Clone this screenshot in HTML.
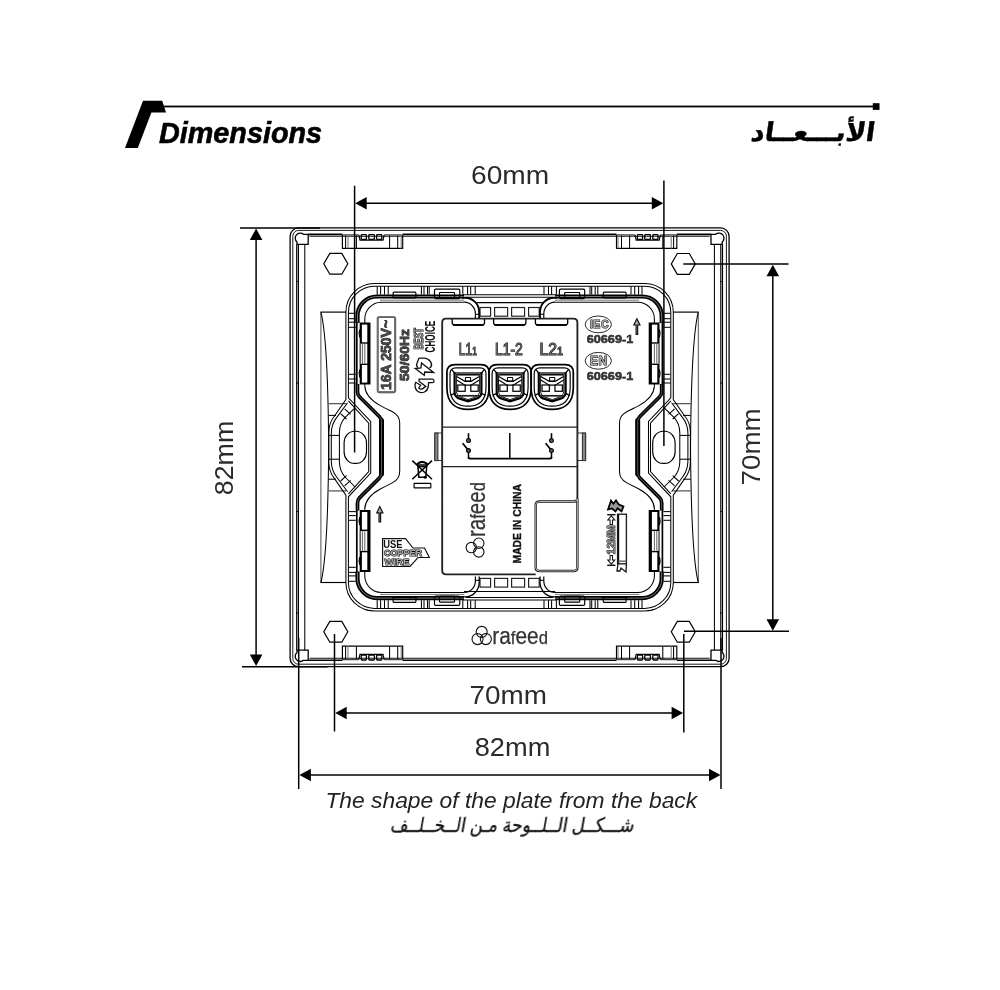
<!DOCTYPE html>
<html lang="en"><head><meta charset="utf-8"><title>Dimensions</title>
<style>
html,body{margin:0;padding:0;background:#fff}
body{width:1000px;height:990px;overflow:hidden}
svg{display:block}
text{font-family:"Liberation Sans",sans-serif}
text.ar{font-family:"Liberation Sans","DejaVu Sans",sans-serif}
</style></head><body>
<svg width="1000" height="990" viewBox="0 0 1000 990">
<defs><clipPath id="cTL"><rect x="0" y="0" width="510" height="447"/></clipPath><clipPath id="cTR"><rect x="510" y="0" width="490" height="447"/></clipPath><clipPath id="cBL"><rect x="0" y="447" width="510" height="543"/></clipPath><clipPath id="cBR"><rect x="510" y="447" width="490" height="543"/></clipPath><filter id="ga" filterUnits="userSpaceOnUse" x="0" y="0" width="1000" height="990"><feOffset dx="0" dy="0"/></filter></defs>
<rect width="1000" height="990" fill="#fff"/>
<g filter="url(#ga)">
<polygon points="143,100.8 162.2,100.8 166,112.6 151.4,112.6 137.8,148 125,148" fill="#000"/>
<rect x="162" y="105.6" width="712" height="1.8" fill="#000"/>
<rect x="872.8" y="103.2" width="6.7" height="6.7" fill="#000"/>
<path d="M354.6 185.7L354.6 452.5" stroke="#000" stroke-width="1.495" fill="none"/>
<path d="M663.9 180.6L663.9 446" stroke="#000" stroke-width="1.495" fill="none"/>
<path d="M365.7 203.2L652.8 203.2" stroke="#000" stroke-width="1.495" fill="none"/>
<polygon points="355.2,203.2 366.7,196.89999999999998 366.7,209.5" fill="#000"/>
<polygon points="663.3,203.2 651.8,196.89999999999998 651.8,209.5" fill="#000"/>
<path d="M240 228L320 228" stroke="#000" stroke-width="1.495" fill="none"/>
<path d="M242 666.7L327.5 666.7" stroke="#000" stroke-width="1.495" fill="none"/>
<path d="M256.1 239.1L256.1 655.6" stroke="#000" stroke-width="1.495" fill="none"/>
<polygon points="256.1,228.6 249.8,240.1 262.40000000000003,240.1" fill="#000"/>
<polygon points="256.1,666.1 249.8,654.6 262.40000000000003,654.6" fill="#000"/>
<path d="M683.3 264.1L788.5 264.1" stroke="#000" stroke-width="1.495" fill="none"/>
<path d="M684 631.3L789 631.3" stroke="#000" stroke-width="1.495" fill="none"/>
<path d="M772.8 275.2L772.8 620.2" stroke="#000" stroke-width="1.495" fill="none"/>
<polygon points="772.8,264.7 766.5,276.2 779.0999999999999,276.2" fill="#000"/>
<polygon points="772.8,630.7 766.5,619.2 779.0999999999999,619.2" fill="#000"/>
<path d="M334.5 634L334.5 731.5" stroke="#000" stroke-width="1.495" fill="none"/>
<path d="M683.8 634L683.8 732.5" stroke="#000" stroke-width="1.495" fill="none"/>
<path d="M345.7 713L672.6 713" stroke="#000" stroke-width="1.495" fill="none"/>
<polygon points="335.2,713 346.7,706.7 346.7,719.3" fill="#000"/>
<polygon points="683.1,713 671.6,706.7 671.6,719.3" fill="#000"/>
<path d="M298.7 638L298.7 789" stroke="#000" stroke-width="1.495" fill="none"/>
<path d="M721.0 638L721.0 789" stroke="#000" stroke-width="1.495" fill="none"/>
<path d="M309.9 775L710.0 775" stroke="#000" stroke-width="1.495" fill="none"/>
<polygon points="299.4,775 310.9,768.7 310.9,781.3" fill="#000"/>
<polygon points="720.5,775 709.0,768.7 709.0,781.3" fill="#000"/>
<rect x="290.1" y="227.9" width="439.00" height="438.80" rx="8.5" ry="8.5" fill="none" stroke="#000" stroke-width="1.3"/>
<rect x="292.8" y="230.4" width="433.60" height="433.80" rx="5.8" ry="5.8" fill="none" stroke="#000" stroke-width="0.9"/>
<g clip-path="url(#cTL)"><path d="M308.2 234.4L342.4 234.4" stroke="#000" stroke-width="1.61" fill="none"/><path d="M402.7 234.4L511.20000000000005 234.4" stroke="#000" stroke-width="1.61" fill="none"/><path d="M342.4 234.9L358.8 234.9" stroke="#000" stroke-width="0.91" fill="none"/><path d="M384.2 234.9L402.7 234.9" stroke="#000" stroke-width="0.91" fill="none"/><path d="M309.5 236.3L511.20000000000005 236.3" stroke="#111" stroke-width="1.04" fill="none"/><path d="M296.7 244.4L296.7 448.90000000000003" stroke="#000" stroke-width="1.17" fill="none"/><path d="M298.4 244.4L298.4 448.90000000000003" stroke="#000" stroke-width="1.17" fill="none"/><path d="M304.8 244.4L304.8 448.90000000000003" stroke="#000" stroke-width="1.04" fill="none"/><path d="M308.2 234.3 H303.5 A4.6 4.6 0 1 0 297 242 V244.4 H308.2 Z" stroke="#000" stroke-width="1.3" fill="none" /><path d="M296.2 281.5L298.9 281.5" stroke="#000" stroke-width="1.04" fill="none"/><path d="M296.2 383L298.9 383" stroke="#000" stroke-width="1.04" fill="none"/><path d="M342.4 235 V248.4 H402.7 V235" stroke="#000" stroke-width="1.17" fill="none" /><path d="M345.6 235.5L345.6 248.4" stroke="#000" stroke-width="1.04" fill="none"/><path d="M356.4 235.5L356.4 248.4" stroke="#000" stroke-width="1.04" fill="none"/><path d="M389.6 235.5L389.6 248.4" stroke="#000" stroke-width="1.04" fill="none"/><path d="M397.7 235.5L397.7 248.4" stroke="#000" stroke-width="1.04" fill="none"/><path d="M348 235.5L348 248.4" stroke="#777" stroke-width="1.04" fill="none"/><path d="M401.2 235.5L401.2 248.4" stroke="#777" stroke-width="1.04" fill="none"/><path d="M358.8 235 L360 240.2 H383 L384.2 235" stroke="#000" stroke-width="1.17" fill="none" /><rect x="361.20" y="234.60" width="5.20" height="4.80" rx="0.7" stroke="#000" stroke-width="1.3" fill="none"/><rect x="368.80" y="234.60" width="5.60" height="4.80" rx="0.7" stroke="#000" stroke-width="1.3" fill="none"/><rect x="376.60" y="234.60" width="5.20" height="4.80" rx="0.7" stroke="#000" stroke-width="1.3" fill="none"/><path d="M320.4 312.1L346.1 312.1" stroke="#000" stroke-width="1.17" fill="none"/><path d="M320.9 312.1L320.9 448.90000000000003" stroke="#555" stroke-width="1.04" fill="none"/><path d="M320.9 312.1 C325.5 330 328.2 375 328.7 448.90000000000003" stroke="#000" stroke-width="1.04" fill="none" /><path d="M348.6 313.3L355.8 313.3" stroke="#000" stroke-width="1.04" fill="none"/><path d="M348.6 318.7L355.8 318.7" stroke="#000" stroke-width="1.04" fill="none"/><path d="M348.6 322.2L355.8 322.2" stroke="#000" stroke-width="1.04" fill="none"/><path d="M348.6 327.3L355.8 327.3" stroke="#000" stroke-width="1.04" fill="none"/><path d="M348.6 374.3L355.8 374.3" stroke="#000" stroke-width="1.04" fill="none"/><path d="M348.6 379L355.8 379" stroke="#000" stroke-width="1.04" fill="none"/><path d="M348.6 383L355.8 383" stroke="#000" stroke-width="1.04" fill="none"/><path d="M328.6 403.7L346 403.7" stroke="#333" stroke-width="1.04" fill="none"/><path d="M328.6 415.4L336 415.4" stroke="#000" stroke-width="1.04" fill="none"/><path d="M329 435.4L339.4 435.4" stroke="#000" stroke-width="1.04" fill="none"/><path d="M511.20000000000005 283.6 H374.5 A28.6 28.6 0 0 0 345.9 312.2 V399.5 L334.5 416 Q329 422.5 328.8 432 V448.90000000000003" stroke="#000" stroke-width="1.04" fill="none" /><path d="M511.20000000000005 286.2 H374.5 A26.3 26.3 0 0 0 348.4 312.2 V397.8 L370.7 421.5 V448.90000000000003" stroke="#000" stroke-width="1.04" fill="none" /><path d="M347.6 402.8 L336.6 417.6 Q331.5 424 331.3 433 V448.90000000000003" stroke="#000" stroke-width="1.04" fill="none" /><path d="M348.4 400.8 L368.7 423.1 V448.90000000000003" stroke="#000" stroke-width="1.04" fill="none" /><path d="M355.2 407.6 L345 417.6 Q339.6 423.5 339.4 432.5 V448.90000000000003" stroke="#000" stroke-width="1.04" fill="none" /><path d="M340.6 413.6L346.5 419" stroke="#000" stroke-width="1.04" fill="none"/><path d="M344.6 408.8L350.6 414.3" stroke="#000" stroke-width="1.04" fill="none"/><path d="M464 296.5 H377 A19.5 19.5 0 0 0 357.5 316 V323" stroke="#000" stroke-width="4.2" fill="none" /><path d="M464 296.5 H377 A19.5 19.5 0 0 0 357.5 316 V323" stroke="#999" stroke-width="0.78" fill="none" /><path d="M357.5 384 V391.7 Q357.5 394.8 359.7 397 L379.3 416.5 Q381.5 418.7 381.5 421.8 V448.90000000000003" stroke="#000" stroke-width="3.7" fill="none" /><path d="M381.5 420.5 V448.90000000000003" stroke="#000" stroke-width="5.0" fill="none" stroke-linecap="round"/><path d="M357.5 384 V391.7 Q357.5 394.8 359.7 397 L379.3 416.5 Q381.5 418.7 381.5 421.8 V448.90000000000003" stroke="#888" stroke-width="0.65" fill="none" /><path d="M356.8 322L356.8 385" stroke="#000" stroke-width="1.7" fill="none"/><path d="M464.3 302.2 H381.5 A16.7 16.7 0 0 0 364.8 318.9 V386 C365.2 394 370 400 380.3 405.6 C386 408.7 389 410 392.4 411.7 C397 414 399.7 417.5 399.7 423 V448.90000000000003" stroke="#000" stroke-width="1.04" fill="none" /><path d="M464.3 300.2 H380" stroke="#666" stroke-width="0.91" fill="none" /><path d="M464.2 302.2 A11.2 11.4 0 0 1 475.4 313.6 V318" stroke="#000" stroke-width="1.17" fill="none" /><path d="M475.4 314.3L479.2 314.3" stroke="#000" stroke-width="1.04" fill="none"/><path d="M462.8 294.7L511.20000000000005 294.7" stroke="#000" stroke-width="1.04" fill="none"/><path d="M466 297.2L511.20000000000005 297.2" stroke="#000" stroke-width="1.04" fill="none"/><rect x="480.00" y="307.50" width="10.60" height="8.70" rx="0" stroke="#222" stroke-width="1.17" fill="none"/><rect x="494.60" y="307.50" width="13.00" height="8.70" rx="0" stroke="#222" stroke-width="1.17" fill="none"/><path d="M377.2 286.2L377.2 294.4" stroke="#000" stroke-width="1.04" fill="none"/><path d="M380.6 286.2L380.6 294.4" stroke="#000" stroke-width="1.04" fill="none"/><path d="M384.5 286.2L384.5 294.4" stroke="#000" stroke-width="1.04" fill="none"/><path d="M388.2 286.2L388.2 294.4" stroke="#000" stroke-width="1.04" fill="none"/><path d="M421.4 286.2L421.4 294.4" stroke="#000" stroke-width="1.04" fill="none"/><path d="M424 286.2L424 294.4" stroke="#000" stroke-width="1.04" fill="none"/><path d="M427.5 286.2L427.5 294.4" stroke="#000" stroke-width="1.04" fill="none"/><path d="M429.2 286.2L429.2 294.4" stroke="#000" stroke-width="1.04" fill="none"/><path d="M462.8 286.2L462.8 294.4" stroke="#000" stroke-width="1.04" fill="none"/><path d="M467.6 286.2L467.6 294.4" stroke="#000" stroke-width="1.04" fill="none"/><path d="M470.7 286.2L470.7 294.4" stroke="#000" stroke-width="1.04" fill="none"/><path d="M475.2 286.2L475.2 294.4" stroke="#000" stroke-width="1.04" fill="none"/><rect x="434.50" y="289.20" width="25.30" height="9.40" rx="1.2" stroke="#000" stroke-width="1.17" fill="none"/><rect x="439.50" y="292.50" width="15.00" height="5.70" rx="0.5" stroke="#000" stroke-width="1.17" fill="none"/><rect x="393.10" y="292.20" width="22.80" height="5.80" rx="1" stroke="#000" stroke-width="1.17" fill="none"/><path d="M391.5 297.2L417.5 297.2" stroke="#000" stroke-width="1.04" fill="none"/><rect x="359.70" y="322.50" width="10.80" height="62.10" rx="0.3" stroke="none" stroke-width="0" fill="#000"/><rect x="361.90" y="324.60" width="5.40" height="17.70" rx="0" stroke="none" stroke-width="0" fill="#fff"/><rect x="361.90" y="365.00" width="5.40" height="17.60" rx="0" stroke="none" stroke-width="0" fill="#fff"/><rect x="359.50" y="343.70" width="7.80" height="19.90" rx="0" stroke="none" stroke-width="0" fill="#fff"/><path d="M360.2 343.7L360.2 363.6" stroke="#222" stroke-width="1.04" fill="none"/><path d="M362.4 343.7L362.4 363.6" stroke="#555" stroke-width="0.91" fill="none"/><path d="M364.8 343.7L364.8 363.6" stroke="#555" stroke-width="0.91" fill="none"/><path d="M359.9 329.5 Q358.4 333.5 359.9 337.5" stroke="#000" stroke-width="1.38" fill="none" /><path d="M359.9 369.5 Q358.4 373.5 359.9 377.5" stroke="#000" stroke-width="1.38" fill="none" /></g>
<g clip-path="url(#cTR)"><g transform="translate(1019.2,0) scale(-1,1)"><path d="M308.2 234.4L342.4 234.4" stroke="#000" stroke-width="1.61" fill="none"/><path d="M402.7 234.4L511.20000000000005 234.4" stroke="#000" stroke-width="1.61" fill="none"/><path d="M342.4 234.9L358.8 234.9" stroke="#000" stroke-width="0.91" fill="none"/><path d="M384.2 234.9L402.7 234.9" stroke="#000" stroke-width="0.91" fill="none"/><path d="M309.5 236.3L511.20000000000005 236.3" stroke="#111" stroke-width="1.04" fill="none"/><path d="M296.7 244.4L296.7 448.90000000000003" stroke="#000" stroke-width="1.17" fill="none"/><path d="M298.4 244.4L298.4 448.90000000000003" stroke="#000" stroke-width="1.17" fill="none"/><path d="M304.8 244.4L304.8 448.90000000000003" stroke="#000" stroke-width="1.04" fill="none"/><path d="M308.2 234.3 H303.5 A4.6 4.6 0 1 0 297 242 V244.4 H308.2 Z" stroke="#000" stroke-width="1.3" fill="none" /><path d="M296.2 281.5L298.9 281.5" stroke="#000" stroke-width="1.04" fill="none"/><path d="M296.2 383L298.9 383" stroke="#000" stroke-width="1.04" fill="none"/><path d="M342.4 235 V248.4 H402.7 V235" stroke="#000" stroke-width="1.17" fill="none" /><path d="M345.6 235.5L345.6 248.4" stroke="#000" stroke-width="1.04" fill="none"/><path d="M356.4 235.5L356.4 248.4" stroke="#000" stroke-width="1.04" fill="none"/><path d="M389.6 235.5L389.6 248.4" stroke="#000" stroke-width="1.04" fill="none"/><path d="M397.7 235.5L397.7 248.4" stroke="#000" stroke-width="1.04" fill="none"/><path d="M348 235.5L348 248.4" stroke="#777" stroke-width="1.04" fill="none"/><path d="M401.2 235.5L401.2 248.4" stroke="#777" stroke-width="1.04" fill="none"/><path d="M358.8 235 L360 240.2 H383 L384.2 235" stroke="#000" stroke-width="1.17" fill="none" /><rect x="361.20" y="234.60" width="5.20" height="4.80" rx="0.7" stroke="#000" stroke-width="1.3" fill="none"/><rect x="368.80" y="234.60" width="5.60" height="4.80" rx="0.7" stroke="#000" stroke-width="1.3" fill="none"/><rect x="376.60" y="234.60" width="5.20" height="4.80" rx="0.7" stroke="#000" stroke-width="1.3" fill="none"/><path d="M320.4 312.1L346.1 312.1" stroke="#000" stroke-width="1.17" fill="none"/><path d="M320.9 312.1L320.9 448.90000000000003" stroke="#555" stroke-width="1.04" fill="none"/><path d="M320.9 312.1 C325.5 330 328.2 375 328.7 448.90000000000003" stroke="#000" stroke-width="1.04" fill="none" /><path d="M348.6 313.3L355.8 313.3" stroke="#000" stroke-width="1.04" fill="none"/><path d="M348.6 318.7L355.8 318.7" stroke="#000" stroke-width="1.04" fill="none"/><path d="M348.6 322.2L355.8 322.2" stroke="#000" stroke-width="1.04" fill="none"/><path d="M348.6 327.3L355.8 327.3" stroke="#000" stroke-width="1.04" fill="none"/><path d="M348.6 374.3L355.8 374.3" stroke="#000" stroke-width="1.04" fill="none"/><path d="M348.6 379L355.8 379" stroke="#000" stroke-width="1.04" fill="none"/><path d="M348.6 383L355.8 383" stroke="#000" stroke-width="1.04" fill="none"/><path d="M328.6 403.7L346 403.7" stroke="#333" stroke-width="1.04" fill="none"/><path d="M328.6 415.4L336 415.4" stroke="#000" stroke-width="1.04" fill="none"/><path d="M329 435.4L339.4 435.4" stroke="#000" stroke-width="1.04" fill="none"/><path d="M511.20000000000005 283.6 H374.5 A28.6 28.6 0 0 0 345.9 312.2 V399.5 L334.5 416 Q329 422.5 328.8 432 V448.90000000000003" stroke="#000" stroke-width="1.04" fill="none" /><path d="M511.20000000000005 286.2 H374.5 A26.3 26.3 0 0 0 348.4 312.2 V397.8 L370.7 421.5 V448.90000000000003" stroke="#000" stroke-width="1.04" fill="none" /><path d="M347.6 402.8 L336.6 417.6 Q331.5 424 331.3 433 V448.90000000000003" stroke="#000" stroke-width="1.04" fill="none" /><path d="M348.4 400.8 L368.7 423.1 V448.90000000000003" stroke="#000" stroke-width="1.04" fill="none" /><path d="M355.2 407.6 L345 417.6 Q339.6 423.5 339.4 432.5 V448.90000000000003" stroke="#000" stroke-width="1.04" fill="none" /><path d="M340.6 413.6L346.5 419" stroke="#000" stroke-width="1.04" fill="none"/><path d="M344.6 408.8L350.6 414.3" stroke="#000" stroke-width="1.04" fill="none"/><path d="M464 296.5 H377 A19.5 19.5 0 0 0 357.5 316 V323" stroke="#000" stroke-width="4.2" fill="none" /><path d="M464 296.5 H377 A19.5 19.5 0 0 0 357.5 316 V323" stroke="#999" stroke-width="0.78" fill="none" /><path d="M357.5 384 V391.7 Q357.5 394.8 359.7 397 L379.3 416.5 Q381.5 418.7 381.5 421.8 V448.90000000000003" stroke="#000" stroke-width="3.7" fill="none" /><path d="M381.5 420.5 V448.90000000000003" stroke="#000" stroke-width="5.0" fill="none" stroke-linecap="round"/><path d="M357.5 384 V391.7 Q357.5 394.8 359.7 397 L379.3 416.5 Q381.5 418.7 381.5 421.8 V448.90000000000003" stroke="#888" stroke-width="0.65" fill="none" /><path d="M356.8 322L356.8 385" stroke="#000" stroke-width="1.7" fill="none"/><path d="M464.3 302.2 H381.5 A16.7 16.7 0 0 0 364.8 318.9 V386 C365.2 394 370 400 380.3 405.6 C386 408.7 389 410 392.4 411.7 C397 414 399.7 417.5 399.7 423 V448.90000000000003" stroke="#000" stroke-width="1.04" fill="none" /><path d="M464.3 300.2 H380" stroke="#666" stroke-width="0.91" fill="none" /><path d="M464.2 302.2 A11.2 11.4 0 0 1 475.4 313.6 V318" stroke="#000" stroke-width="1.17" fill="none" /><path d="M475.4 314.3L479.2 314.3" stroke="#000" stroke-width="1.04" fill="none"/><path d="M462.8 294.7L511.20000000000005 294.7" stroke="#000" stroke-width="1.04" fill="none"/><path d="M466 297.2L511.20000000000005 297.2" stroke="#000" stroke-width="1.04" fill="none"/><rect x="480.00" y="307.50" width="10.60" height="8.70" rx="0" stroke="#222" stroke-width="1.17" fill="none"/><rect x="494.60" y="307.50" width="13.00" height="8.70" rx="0" stroke="#222" stroke-width="1.17" fill="none"/><path d="M377.2 286.2L377.2 294.4" stroke="#000" stroke-width="1.04" fill="none"/><path d="M380.6 286.2L380.6 294.4" stroke="#000" stroke-width="1.04" fill="none"/><path d="M384.5 286.2L384.5 294.4" stroke="#000" stroke-width="1.04" fill="none"/><path d="M388.2 286.2L388.2 294.4" stroke="#000" stroke-width="1.04" fill="none"/><path d="M421.4 286.2L421.4 294.4" stroke="#000" stroke-width="1.04" fill="none"/><path d="M424 286.2L424 294.4" stroke="#000" stroke-width="1.04" fill="none"/><path d="M427.5 286.2L427.5 294.4" stroke="#000" stroke-width="1.04" fill="none"/><path d="M429.2 286.2L429.2 294.4" stroke="#000" stroke-width="1.04" fill="none"/><path d="M462.8 286.2L462.8 294.4" stroke="#000" stroke-width="1.04" fill="none"/><path d="M467.6 286.2L467.6 294.4" stroke="#000" stroke-width="1.04" fill="none"/><path d="M470.7 286.2L470.7 294.4" stroke="#000" stroke-width="1.04" fill="none"/><path d="M475.2 286.2L475.2 294.4" stroke="#000" stroke-width="1.04" fill="none"/><rect x="434.50" y="289.20" width="25.30" height="9.40" rx="1.2" stroke="#000" stroke-width="1.17" fill="none"/><rect x="439.50" y="292.50" width="15.00" height="5.70" rx="0.5" stroke="#000" stroke-width="1.17" fill="none"/><rect x="393.10" y="292.20" width="22.80" height="5.80" rx="1" stroke="#000" stroke-width="1.17" fill="none"/><path d="M391.5 297.2L417.5 297.2" stroke="#000" stroke-width="1.04" fill="none"/><rect x="359.70" y="322.50" width="10.80" height="62.10" rx="0.3" stroke="none" stroke-width="0" fill="#000"/><rect x="361.90" y="324.60" width="5.40" height="17.70" rx="0" stroke="none" stroke-width="0" fill="#fff"/><rect x="361.90" y="365.00" width="5.40" height="17.60" rx="0" stroke="none" stroke-width="0" fill="#fff"/><rect x="359.50" y="343.70" width="7.80" height="19.90" rx="0" stroke="none" stroke-width="0" fill="#fff"/><path d="M360.2 343.7L360.2 363.6" stroke="#222" stroke-width="1.04" fill="none"/><path d="M362.4 343.7L362.4 363.6" stroke="#555" stroke-width="0.91" fill="none"/><path d="M364.8 343.7L364.8 363.6" stroke="#555" stroke-width="0.91" fill="none"/><path d="M359.9 329.5 Q358.4 333.5 359.9 337.5" stroke="#000" stroke-width="1.38" fill="none" /><path d="M359.9 369.5 Q358.4 373.5 359.9 377.5" stroke="#000" stroke-width="1.38" fill="none" /></g></g>
<g clip-path="url(#cBL)"><g transform="translate(0,894.6) scale(1,-1)"><path d="M308.2 234.4L342.4 234.4" stroke="#000" stroke-width="1.61" fill="none"/><path d="M402.7 234.4L511.20000000000005 234.4" stroke="#000" stroke-width="1.61" fill="none"/><path d="M342.4 234.9L358.8 234.9" stroke="#000" stroke-width="0.91" fill="none"/><path d="M384.2 234.9L402.7 234.9" stroke="#000" stroke-width="0.91" fill="none"/><path d="M309.5 236.3L511.20000000000005 236.3" stroke="#111" stroke-width="1.04" fill="none"/><path d="M296.7 244.4L296.7 448.90000000000003" stroke="#000" stroke-width="1.17" fill="none"/><path d="M298.4 244.4L298.4 448.90000000000003" stroke="#000" stroke-width="1.17" fill="none"/><path d="M304.8 244.4L304.8 448.90000000000003" stroke="#000" stroke-width="1.04" fill="none"/><path d="M308.2 234.3 H303.5 A4.6 4.6 0 1 0 297 242 V244.4 H308.2 Z" stroke="#000" stroke-width="1.3" fill="none" /><path d="M296.2 281.5L298.9 281.5" stroke="#000" stroke-width="1.04" fill="none"/><path d="M296.2 383L298.9 383" stroke="#000" stroke-width="1.04" fill="none"/><path d="M342.4 235 V248.4 H402.7 V235" stroke="#000" stroke-width="1.17" fill="none" /><path d="M345.6 235.5L345.6 248.4" stroke="#000" stroke-width="1.04" fill="none"/><path d="M356.4 235.5L356.4 248.4" stroke="#000" stroke-width="1.04" fill="none"/><path d="M389.6 235.5L389.6 248.4" stroke="#000" stroke-width="1.04" fill="none"/><path d="M397.7 235.5L397.7 248.4" stroke="#000" stroke-width="1.04" fill="none"/><path d="M348 235.5L348 248.4" stroke="#777" stroke-width="1.04" fill="none"/><path d="M401.2 235.5L401.2 248.4" stroke="#777" stroke-width="1.04" fill="none"/><path d="M358.8 235 L360 240.2 H383 L384.2 235" stroke="#000" stroke-width="1.17" fill="none" /><rect x="361.20" y="234.60" width="5.20" height="4.80" rx="0.7" stroke="#000" stroke-width="1.3" fill="none"/><rect x="368.80" y="234.60" width="5.60" height="4.80" rx="0.7" stroke="#000" stroke-width="1.3" fill="none"/><rect x="376.60" y="234.60" width="5.20" height="4.80" rx="0.7" stroke="#000" stroke-width="1.3" fill="none"/><path d="M320.4 312.1L346.1 312.1" stroke="#000" stroke-width="1.17" fill="none"/><path d="M320.9 312.1L320.9 448.90000000000003" stroke="#555" stroke-width="1.04" fill="none"/><path d="M320.9 312.1 C325.5 330 328.2 375 328.7 448.90000000000003" stroke="#000" stroke-width="1.04" fill="none" /><path d="M348.6 313.3L355.8 313.3" stroke="#000" stroke-width="1.04" fill="none"/><path d="M348.6 318.7L355.8 318.7" stroke="#000" stroke-width="1.04" fill="none"/><path d="M348.6 322.2L355.8 322.2" stroke="#000" stroke-width="1.04" fill="none"/><path d="M348.6 327.3L355.8 327.3" stroke="#000" stroke-width="1.04" fill="none"/><path d="M348.6 374.3L355.8 374.3" stroke="#000" stroke-width="1.04" fill="none"/><path d="M348.6 379L355.8 379" stroke="#000" stroke-width="1.04" fill="none"/><path d="M348.6 383L355.8 383" stroke="#000" stroke-width="1.04" fill="none"/><path d="M328.6 403.7L346 403.7" stroke="#333" stroke-width="1.04" fill="none"/><path d="M328.6 415.4L336 415.4" stroke="#000" stroke-width="1.04" fill="none"/><path d="M329 435.4L339.4 435.4" stroke="#000" stroke-width="1.04" fill="none"/><path d="M511.20000000000005 283.6 H374.5 A28.6 28.6 0 0 0 345.9 312.2 V399.5 L334.5 416 Q329 422.5 328.8 432 V448.90000000000003" stroke="#000" stroke-width="1.04" fill="none" /><path d="M511.20000000000005 286.2 H374.5 A26.3 26.3 0 0 0 348.4 312.2 V397.8 L370.7 421.5 V448.90000000000003" stroke="#000" stroke-width="1.04" fill="none" /><path d="M347.6 402.8 L336.6 417.6 Q331.5 424 331.3 433 V448.90000000000003" stroke="#000" stroke-width="1.04" fill="none" /><path d="M348.4 400.8 L368.7 423.1 V448.90000000000003" stroke="#000" stroke-width="1.04" fill="none" /><path d="M355.2 407.6 L345 417.6 Q339.6 423.5 339.4 432.5 V448.90000000000003" stroke="#000" stroke-width="1.04" fill="none" /><path d="M340.6 413.6L346.5 419" stroke="#000" stroke-width="1.04" fill="none"/><path d="M344.6 408.8L350.6 414.3" stroke="#000" stroke-width="1.04" fill="none"/><path d="M464 296.5 H377 A19.5 19.5 0 0 0 357.5 316 V323" stroke="#000" stroke-width="4.2" fill="none" /><path d="M464 296.5 H377 A19.5 19.5 0 0 0 357.5 316 V323" stroke="#999" stroke-width="0.78" fill="none" /><path d="M357.5 384 V391.7 Q357.5 394.8 359.7 397 L379.3 416.5 Q381.5 418.7 381.5 421.8 V448.90000000000003" stroke="#000" stroke-width="3.7" fill="none" /><path d="M381.5 420.5 V448.90000000000003" stroke="#000" stroke-width="5.0" fill="none" stroke-linecap="round"/><path d="M357.5 384 V391.7 Q357.5 394.8 359.7 397 L379.3 416.5 Q381.5 418.7 381.5 421.8 V448.90000000000003" stroke="#888" stroke-width="0.65" fill="none" /><path d="M356.8 322L356.8 385" stroke="#000" stroke-width="1.7" fill="none"/><path d="M464.3 302.2 H381.5 A16.7 16.7 0 0 0 364.8 318.9 V386 C365.2 394 370 400 380.3 405.6 C386 408.7 389 410 392.4 411.7 C397 414 399.7 417.5 399.7 423 V448.90000000000003" stroke="#000" stroke-width="1.04" fill="none" /><path d="M464.3 300.2 H380" stroke="#666" stroke-width="0.91" fill="none" /><path d="M464.2 302.2 A11.2 11.4 0 0 1 475.4 313.6 V318" stroke="#000" stroke-width="1.17" fill="none" /><path d="M475.4 314.3L479.2 314.3" stroke="#000" stroke-width="1.04" fill="none"/><path d="M462.8 294.7L511.20000000000005 294.7" stroke="#000" stroke-width="1.04" fill="none"/><path d="M466 297.2L511.20000000000005 297.2" stroke="#000" stroke-width="1.04" fill="none"/><rect x="480.00" y="307.50" width="10.60" height="8.70" rx="0" stroke="#222" stroke-width="1.17" fill="none"/><rect x="494.60" y="307.50" width="13.00" height="8.70" rx="0" stroke="#222" stroke-width="1.17" fill="none"/><path d="M377.2 286.2L377.2 294.4" stroke="#000" stroke-width="1.04" fill="none"/><path d="M380.6 286.2L380.6 294.4" stroke="#000" stroke-width="1.04" fill="none"/><path d="M384.5 286.2L384.5 294.4" stroke="#000" stroke-width="1.04" fill="none"/><path d="M388.2 286.2L388.2 294.4" stroke="#000" stroke-width="1.04" fill="none"/><path d="M421.4 286.2L421.4 294.4" stroke="#000" stroke-width="1.04" fill="none"/><path d="M424 286.2L424 294.4" stroke="#000" stroke-width="1.04" fill="none"/><path d="M427.5 286.2L427.5 294.4" stroke="#000" stroke-width="1.04" fill="none"/><path d="M429.2 286.2L429.2 294.4" stroke="#000" stroke-width="1.04" fill="none"/><path d="M462.8 286.2L462.8 294.4" stroke="#000" stroke-width="1.04" fill="none"/><path d="M467.6 286.2L467.6 294.4" stroke="#000" stroke-width="1.04" fill="none"/><path d="M470.7 286.2L470.7 294.4" stroke="#000" stroke-width="1.04" fill="none"/><path d="M475.2 286.2L475.2 294.4" stroke="#000" stroke-width="1.04" fill="none"/><rect x="434.50" y="289.20" width="25.30" height="9.40" rx="1.2" stroke="#000" stroke-width="1.17" fill="none"/><rect x="439.50" y="292.50" width="15.00" height="5.70" rx="0.5" stroke="#000" stroke-width="1.17" fill="none"/><rect x="393.10" y="292.20" width="22.80" height="5.80" rx="1" stroke="#000" stroke-width="1.17" fill="none"/><path d="M391.5 297.2L417.5 297.2" stroke="#000" stroke-width="1.04" fill="none"/><rect x="359.70" y="322.50" width="10.80" height="62.10" rx="0.3" stroke="none" stroke-width="0" fill="#000"/><rect x="361.90" y="324.60" width="5.40" height="17.70" rx="0" stroke="none" stroke-width="0" fill="#fff"/><rect x="361.90" y="365.00" width="5.40" height="17.60" rx="0" stroke="none" stroke-width="0" fill="#fff"/><rect x="359.50" y="343.70" width="7.80" height="19.90" rx="0" stroke="none" stroke-width="0" fill="#fff"/><path d="M360.2 343.7L360.2 363.6" stroke="#222" stroke-width="1.04" fill="none"/><path d="M362.4 343.7L362.4 363.6" stroke="#555" stroke-width="0.91" fill="none"/><path d="M364.8 343.7L364.8 363.6" stroke="#555" stroke-width="0.91" fill="none"/><path d="M359.9 329.5 Q358.4 333.5 359.9 337.5" stroke="#000" stroke-width="1.38" fill="none" /><path d="M359.9 369.5 Q358.4 373.5 359.9 377.5" stroke="#000" stroke-width="1.38" fill="none" /></g></g>
<g clip-path="url(#cBR)"><g transform="translate(1019.2,894.6) scale(-1,-1)"><path d="M308.2 234.4L342.4 234.4" stroke="#000" stroke-width="1.61" fill="none"/><path d="M402.7 234.4L511.20000000000005 234.4" stroke="#000" stroke-width="1.61" fill="none"/><path d="M342.4 234.9L358.8 234.9" stroke="#000" stroke-width="0.91" fill="none"/><path d="M384.2 234.9L402.7 234.9" stroke="#000" stroke-width="0.91" fill="none"/><path d="M309.5 236.3L511.20000000000005 236.3" stroke="#111" stroke-width="1.04" fill="none"/><path d="M296.7 244.4L296.7 448.90000000000003" stroke="#000" stroke-width="1.17" fill="none"/><path d="M298.4 244.4L298.4 448.90000000000003" stroke="#000" stroke-width="1.17" fill="none"/><path d="M304.8 244.4L304.8 448.90000000000003" stroke="#000" stroke-width="1.04" fill="none"/><path d="M308.2 234.3 H303.5 A4.6 4.6 0 1 0 297 242 V244.4 H308.2 Z" stroke="#000" stroke-width="1.3" fill="none" /><path d="M296.2 281.5L298.9 281.5" stroke="#000" stroke-width="1.04" fill="none"/><path d="M296.2 383L298.9 383" stroke="#000" stroke-width="1.04" fill="none"/><path d="M342.4 235 V248.4 H402.7 V235" stroke="#000" stroke-width="1.17" fill="none" /><path d="M345.6 235.5L345.6 248.4" stroke="#000" stroke-width="1.04" fill="none"/><path d="M356.4 235.5L356.4 248.4" stroke="#000" stroke-width="1.04" fill="none"/><path d="M389.6 235.5L389.6 248.4" stroke="#000" stroke-width="1.04" fill="none"/><path d="M397.7 235.5L397.7 248.4" stroke="#000" stroke-width="1.04" fill="none"/><path d="M348 235.5L348 248.4" stroke="#777" stroke-width="1.04" fill="none"/><path d="M401.2 235.5L401.2 248.4" stroke="#777" stroke-width="1.04" fill="none"/><path d="M358.8 235 L360 240.2 H383 L384.2 235" stroke="#000" stroke-width="1.17" fill="none" /><rect x="361.20" y="234.60" width="5.20" height="4.80" rx="0.7" stroke="#000" stroke-width="1.3" fill="none"/><rect x="368.80" y="234.60" width="5.60" height="4.80" rx="0.7" stroke="#000" stroke-width="1.3" fill="none"/><rect x="376.60" y="234.60" width="5.20" height="4.80" rx="0.7" stroke="#000" stroke-width="1.3" fill="none"/><path d="M320.4 312.1L346.1 312.1" stroke="#000" stroke-width="1.17" fill="none"/><path d="M320.9 312.1L320.9 448.90000000000003" stroke="#555" stroke-width="1.04" fill="none"/><path d="M320.9 312.1 C325.5 330 328.2 375 328.7 448.90000000000003" stroke="#000" stroke-width="1.04" fill="none" /><path d="M348.6 313.3L355.8 313.3" stroke="#000" stroke-width="1.04" fill="none"/><path d="M348.6 318.7L355.8 318.7" stroke="#000" stroke-width="1.04" fill="none"/><path d="M348.6 322.2L355.8 322.2" stroke="#000" stroke-width="1.04" fill="none"/><path d="M348.6 327.3L355.8 327.3" stroke="#000" stroke-width="1.04" fill="none"/><path d="M348.6 374.3L355.8 374.3" stroke="#000" stroke-width="1.04" fill="none"/><path d="M348.6 379L355.8 379" stroke="#000" stroke-width="1.04" fill="none"/><path d="M348.6 383L355.8 383" stroke="#000" stroke-width="1.04" fill="none"/><path d="M328.6 403.7L346 403.7" stroke="#333" stroke-width="1.04" fill="none"/><path d="M328.6 415.4L336 415.4" stroke="#000" stroke-width="1.04" fill="none"/><path d="M329 435.4L339.4 435.4" stroke="#000" stroke-width="1.04" fill="none"/><path d="M511.20000000000005 283.6 H374.5 A28.6 28.6 0 0 0 345.9 312.2 V399.5 L334.5 416 Q329 422.5 328.8 432 V448.90000000000003" stroke="#000" stroke-width="1.04" fill="none" /><path d="M511.20000000000005 286.2 H374.5 A26.3 26.3 0 0 0 348.4 312.2 V397.8 L370.7 421.5 V448.90000000000003" stroke="#000" stroke-width="1.04" fill="none" /><path d="M347.6 402.8 L336.6 417.6 Q331.5 424 331.3 433 V448.90000000000003" stroke="#000" stroke-width="1.04" fill="none" /><path d="M348.4 400.8 L368.7 423.1 V448.90000000000003" stroke="#000" stroke-width="1.04" fill="none" /><path d="M355.2 407.6 L345 417.6 Q339.6 423.5 339.4 432.5 V448.90000000000003" stroke="#000" stroke-width="1.04" fill="none" /><path d="M340.6 413.6L346.5 419" stroke="#000" stroke-width="1.04" fill="none"/><path d="M344.6 408.8L350.6 414.3" stroke="#000" stroke-width="1.04" fill="none"/><path d="M464 296.5 H377 A19.5 19.5 0 0 0 357.5 316 V323" stroke="#000" stroke-width="4.2" fill="none" /><path d="M464 296.5 H377 A19.5 19.5 0 0 0 357.5 316 V323" stroke="#999" stroke-width="0.78" fill="none" /><path d="M357.5 384 V391.7 Q357.5 394.8 359.7 397 L379.3 416.5 Q381.5 418.7 381.5 421.8 V448.90000000000003" stroke="#000" stroke-width="3.7" fill="none" /><path d="M381.5 420.5 V448.90000000000003" stroke="#000" stroke-width="5.0" fill="none" stroke-linecap="round"/><path d="M357.5 384 V391.7 Q357.5 394.8 359.7 397 L379.3 416.5 Q381.5 418.7 381.5 421.8 V448.90000000000003" stroke="#888" stroke-width="0.65" fill="none" /><path d="M356.8 322L356.8 385" stroke="#000" stroke-width="1.7" fill="none"/><path d="M464.3 302.2 H381.5 A16.7 16.7 0 0 0 364.8 318.9 V386 C365.2 394 370 400 380.3 405.6 C386 408.7 389 410 392.4 411.7 C397 414 399.7 417.5 399.7 423 V448.90000000000003" stroke="#000" stroke-width="1.04" fill="none" /><path d="M464.3 300.2 H380" stroke="#666" stroke-width="0.91" fill="none" /><path d="M464.2 302.2 A11.2 11.4 0 0 1 475.4 313.6 V318" stroke="#000" stroke-width="1.17" fill="none" /><path d="M475.4 314.3L479.2 314.3" stroke="#000" stroke-width="1.04" fill="none"/><path d="M462.8 294.7L511.20000000000005 294.7" stroke="#000" stroke-width="1.04" fill="none"/><path d="M466 297.2L511.20000000000005 297.2" stroke="#000" stroke-width="1.04" fill="none"/><rect x="480.00" y="307.50" width="10.60" height="8.70" rx="0" stroke="#222" stroke-width="1.17" fill="none"/><rect x="494.60" y="307.50" width="13.00" height="8.70" rx="0" stroke="#222" stroke-width="1.17" fill="none"/><path d="M377.2 286.2L377.2 294.4" stroke="#000" stroke-width="1.04" fill="none"/><path d="M380.6 286.2L380.6 294.4" stroke="#000" stroke-width="1.04" fill="none"/><path d="M384.5 286.2L384.5 294.4" stroke="#000" stroke-width="1.04" fill="none"/><path d="M388.2 286.2L388.2 294.4" stroke="#000" stroke-width="1.04" fill="none"/><path d="M421.4 286.2L421.4 294.4" stroke="#000" stroke-width="1.04" fill="none"/><path d="M424 286.2L424 294.4" stroke="#000" stroke-width="1.04" fill="none"/><path d="M427.5 286.2L427.5 294.4" stroke="#000" stroke-width="1.04" fill="none"/><path d="M429.2 286.2L429.2 294.4" stroke="#000" stroke-width="1.04" fill="none"/><path d="M462.8 286.2L462.8 294.4" stroke="#000" stroke-width="1.04" fill="none"/><path d="M467.6 286.2L467.6 294.4" stroke="#000" stroke-width="1.04" fill="none"/><path d="M470.7 286.2L470.7 294.4" stroke="#000" stroke-width="1.04" fill="none"/><path d="M475.2 286.2L475.2 294.4" stroke="#000" stroke-width="1.04" fill="none"/><rect x="434.50" y="289.20" width="25.30" height="9.40" rx="1.2" stroke="#000" stroke-width="1.17" fill="none"/><rect x="439.50" y="292.50" width="15.00" height="5.70" rx="0.5" stroke="#000" stroke-width="1.17" fill="none"/><rect x="393.10" y="292.20" width="22.80" height="5.80" rx="1" stroke="#000" stroke-width="1.17" fill="none"/><path d="M391.5 297.2L417.5 297.2" stroke="#000" stroke-width="1.04" fill="none"/><rect x="359.70" y="322.50" width="10.80" height="62.10" rx="0.3" stroke="none" stroke-width="0" fill="#000"/><rect x="361.90" y="324.60" width="5.40" height="17.70" rx="0" stroke="none" stroke-width="0" fill="#fff"/><rect x="361.90" y="365.00" width="5.40" height="17.60" rx="0" stroke="none" stroke-width="0" fill="#fff"/><rect x="359.50" y="343.70" width="7.80" height="19.90" rx="0" stroke="none" stroke-width="0" fill="#fff"/><path d="M360.2 343.7L360.2 363.6" stroke="#222" stroke-width="1.04" fill="none"/><path d="M362.4 343.7L362.4 363.6" stroke="#555" stroke-width="0.91" fill="none"/><path d="M364.8 343.7L364.8 363.6" stroke="#555" stroke-width="0.91" fill="none"/><path d="M359.9 329.5 Q358.4 333.5 359.9 337.5" stroke="#000" stroke-width="1.38" fill="none" /><path d="M359.9 369.5 Q358.4 373.5 359.9 377.5" stroke="#000" stroke-width="1.38" fill="none" /></g></g>
<g clip-path="url(#cTL)"><path d="M462 297.7 H465 A14.2 14.4 0 0 1 479.2 312 V318" stroke="#000" stroke-width="1.9" fill="none" /><path d="M476.5 302.6L511.20000000000005 302.6" stroke="#000" stroke-width="1.17" fill="none"/></g>
<g clip-path="url(#cTR)"><g transform="translate(1019.2,0) scale(-1,1)"><path d="M462 297.7 H465 A14.2 14.4 0 0 1 479.2 312 V318" stroke="#000" stroke-width="1.9" fill="none" /><path d="M476.5 302.6L511.20000000000005 302.6" stroke="#000" stroke-width="1.17" fill="none"/></g></g>
<g clip-path="url(#cBL)"><g transform="translate(0,894.6) scale(1,-1)"><path d="M462 297.7 H465 A14.2 14.4 0 0 1 479.2 312 V318" stroke="#000" stroke-width="1.3" fill="none" /><path d="M464 303.0L511.20000000000005 303.0" stroke="#000" stroke-width="1.04" fill="none"/></g></g>
<g clip-path="url(#cBR)"><g transform="translate(1019.2,894.6) scale(-1,-1)"><path d="M462 297.7 H465 A14.2 14.4 0 0 1 479.2 312 V318" stroke="#000" stroke-width="1.3" fill="none" /><path d="M464 303.0L511.20000000000005 303.0" stroke="#000" stroke-width="1.04" fill="none"/></g></g>
<polygon points="347.80,263.80 341.80,274.19 329.80,274.19 323.80,263.80 329.80,253.41 341.80,253.41" fill="none" stroke="#000" stroke-width="1.2"/>
<polygon points="695.30,263.90 689.30,274.29 677.30,274.29 671.30,263.90 677.30,253.51 689.30,253.51" fill="none" stroke="#000" stroke-width="1.2"/>
<polygon points="347.80,631.80 341.80,642.19 329.80,642.19 323.80,631.80 329.80,621.41 341.80,621.41" fill="none" stroke="#000" stroke-width="1.2"/>
<polygon points="695.30,631.80 689.30,642.19 677.30,642.19 671.30,631.80 677.30,621.41 689.30,621.41" fill="none" stroke="#000" stroke-width="1.2"/>
<rect x="344.10" y="431.20" width="22.4" height="32.2" rx="10.5" ry="11.5" fill="none" stroke="#000" stroke-width="1.15"/>
<rect x="652.70" y="431.20" width="22.4" height="32.2" rx="10.5" ry="11.5" fill="none" stroke="#000" stroke-width="1.15"/>
<path d="M445.8 318.7 H573.4 Q577.4 318.7 577.4 322.7 V499.3 M535.7 574.3 H446 Q442.2 574.3 442.2 570.5 V322.7 Q442.2 318.7 445.8 318.7" stroke="#222" stroke-width="1.84" fill="none" /><path d="M577.4 499 Q577 501.5 574 501.5 H539.5 Q535.7 501.5 535.7 505 V567.5 Q535.7 571 539.5 571 H573.5 Q577.4 571 577.4 567.5 V499" stroke="#1a1a1a" stroke-width="2.4" fill="none" /><path d="M577.4 499 Q577 501.5 574 501.5 H539.5 Q535.7 501.5 535.7 505 V567.5 Q535.7 571 539.5 571 H573.5 Q577.4 571 577.4 567.5 V499" stroke="#ddd" stroke-width="0.78" fill="none" /><path d="M452.2 319 V322.5 Q452.2 325 454.7 325 H482.0 Q484.5 325 484.5 322.5 V319" stroke="#000" stroke-width="1.3" fill="none" /><path d="M453.2 325L483.5 325" stroke="#000" stroke-width="1.84" fill="none"/><path d="M493.6 319 V322.5 Q493.6 325 496.1 325 H523.4 Q525.9 325 525.9 322.5 V319" stroke="#000" stroke-width="1.3" fill="none" /><path d="M494.6 325L524.9 325" stroke="#000" stroke-width="1.84" fill="none"/><path d="M535.4 319 V322.5 Q535.4 325 537.9 325 H565.1999999999999 Q567.6999999999999 325 567.6999999999999 322.5 V319" stroke="#000" stroke-width="1.3" fill="none" /><path d="M536.4 325L566.6999999999999 325" stroke="#000" stroke-width="1.84" fill="none"/><path d="M442.5 427.1L577.2 427.1" stroke="#222" stroke-width="1.265" fill="none"/><path d="M442.5 466.7L577.2 466.7" stroke="#222" stroke-width="1.265" fill="none"/><rect x="434.80" y="433.10" width="7.20" height="27.50" rx="0.5" stroke="#333" stroke-width="1.04" fill="none"/><rect x="434.80" y="433.10" width="3.10" height="27.50" rx="0" stroke="#333" stroke-width="1.04" fill="#888"/><rect x="577.40" y="433.10" width="8.20" height="27.50" rx="0.5" stroke="#333" stroke-width="1.04" fill="none"/><rect x="582.40" y="433.10" width="3.20" height="27.50" rx="0" stroke="#333" stroke-width="1.04" fill="#888"/><path d="M468.5 433.2L468.5 440" stroke="#000" stroke-width="1.61" fill="none"/><circle cx="468.5" cy="440.6" r="1.9" fill="#666" stroke="#000" stroke-width="1.2"/><path d="M462.6 443.2L468.5 450.5" stroke="#000" stroke-width="1.8" fill="none"/><circle cx="468.5" cy="450.6" r="1.9" fill="#666" stroke="#000" stroke-width="1.2"/><path d="M468.5 452.5L468.5 458.6" stroke="#000" stroke-width="1.495" fill="none"/><path d="M551.5 433.2L551.5 440" stroke="#000" stroke-width="1.61" fill="none"/><circle cx="551.5" cy="440.6" r="1.9" fill="#666" stroke="#000" stroke-width="1.2"/><path d="M545.6 443.2L551.5 450.5" stroke="#000" stroke-width="1.8" fill="none"/><circle cx="551.5" cy="450.6" r="1.9" fill="#666" stroke="#000" stroke-width="1.2"/><path d="M551.5 452.5L551.5 458.6" stroke="#000" stroke-width="1.495" fill="none"/><path d="M468.5 457 Q468.5 458.6 470 458.6 H550 Q551.5 458.6 551.5 457" stroke="#000" stroke-width="1.84" fill="none" /><path d="M509.8 433.1L509.8 458.6" stroke="#000" stroke-width="1.495" fill="none"/><path d="M446.9 372.6 Q446.9 364.6 454.9 364.6 H481.1 Q489.1 364.6 489.1 372.6 V387.4 C489.1 403.4 480.0 409.4 468.0 409.4 C456.0 409.4 446.9 403.4 446.9 387.4 Z" stroke="#000" stroke-width="1.725" fill="none" /><path d="M450.0 373.8 Q450.0 367.8 456.0 367.8 H480.0 Q486.0 367.8 486.0 373.8 V387.2 C486.0 401.2 478.0 406.2 468.0 406.2 C458.0 406.2 450.0 401.2 450.0 387.2 Z" stroke="#000" stroke-width="1.17" fill="none" /><path d="M454.6 372.6 V392.4 Q454.6 396.4 459.0 398.4 L468.0 401.4 L477.0 398.4 Q481.4 396.4 481.4 392.4 V372.6" stroke="#000" stroke-width="2.2" fill="none" /><path d="M453.6 373L482.4 373" stroke="#000" stroke-width="1.265" fill="none"/><path d="M456.40000000000003 374.5 H479.59999999999997 V391.9 Q479.4 394.9 476.0 396.79999999999995 L468.0 399.59999999999997 L460.0 396.79999999999995 Q456.6 394.9 456.40000000000003 391.9 Z" stroke="#000" stroke-width="0.91" fill="none" /><path d="M454.6 373L451.5 369.3" stroke="#000" stroke-width="1.17" fill="none"/><path d="M481.4 373L484.5 369.3" stroke="#000" stroke-width="1.17" fill="none"/><path d="M454.6 393.4L450.5 395.4" stroke="#000" stroke-width="1.17" fill="none"/><path d="M481.4 393.4L485.5 395.4" stroke="#000" stroke-width="1.17" fill="none"/><path d="M456.6 376.5 L465.0 381.3 H471.0 L479.4 376.5" stroke="#000" stroke-width="1.17" fill="none" /><path d="M456.6 380 L465.0 385.2 H471.0 L479.4 380" stroke="#000" stroke-width="1.17" fill="none" /><rect x="465.40" y="377.50" width="5.20" height="3.50" rx="0.5" stroke="#000" stroke-width="1.04" fill="none"/><path d="M456.6 375L479.4 375" stroke="#000" stroke-width="1.04" fill="none"/><rect x="457.80" y="385.00" width="7.40" height="6.30" rx="0" stroke="#111" stroke-width="1.3" fill="none"/><rect x="470.80" y="385.00" width="7.40" height="6.30" rx="0" stroke="#111" stroke-width="1.3" fill="none"/><path d="M455.6 395.8L480.4 395.8" stroke="#222" stroke-width="1.725" fill="none"/><path d="M489.0 372.6 Q489.0 364.6 497.0 364.6 H523.2 Q531.2 364.6 531.2 372.6 V387.4 C531.2 403.4 522.1 409.4 510.1 409.4 C498.1 409.4 489.0 403.4 489.0 387.4 Z" stroke="#000" stroke-width="1.725" fill="none" /><path d="M492.1 373.8 Q492.1 367.8 498.1 367.8 H522.1 Q528.1 367.8 528.1 373.8 V387.2 C528.1 401.2 520.1 406.2 510.1 406.2 C500.1 406.2 492.1 401.2 492.1 387.2 Z" stroke="#000" stroke-width="1.17" fill="none" /><path d="M496.70000000000005 372.6 V392.4 Q496.70000000000005 396.4 501.1 398.4 L510.1 401.4 L519.1 398.4 Q523.5 396.4 523.5 392.4 V372.6" stroke="#000" stroke-width="2.2" fill="none" /><path d="M495.70000000000005 373L524.5 373" stroke="#000" stroke-width="1.265" fill="none"/><path d="M498.50000000000006 374.5 H521.7 V391.9 Q521.5 394.9 518.1 396.79999999999995 L510.1 399.59999999999997 L502.1 396.79999999999995 Q498.70000000000005 394.9 498.50000000000006 391.9 Z" stroke="#000" stroke-width="0.91" fill="none" /><path d="M496.70000000000005 373L493.6 369.3" stroke="#000" stroke-width="1.17" fill="none"/><path d="M523.5 373L526.6 369.3" stroke="#000" stroke-width="1.17" fill="none"/><path d="M496.70000000000005 393.4L492.6 395.4" stroke="#000" stroke-width="1.17" fill="none"/><path d="M523.5 393.4L527.6 395.4" stroke="#000" stroke-width="1.17" fill="none"/><path d="M498.70000000000005 376.5 L507.1 381.3 H513.1 L521.5 376.5" stroke="#000" stroke-width="1.17" fill="none" /><path d="M498.70000000000005 380 L507.1 385.2 H513.1 L521.5 380" stroke="#000" stroke-width="1.17" fill="none" /><rect x="507.50" y="377.50" width="5.20" height="3.50" rx="0.5" stroke="#000" stroke-width="1.04" fill="none"/><path d="M498.70000000000005 375L521.5 375" stroke="#000" stroke-width="1.04" fill="none"/><rect x="499.90" y="385.00" width="7.40" height="6.30" rx="0" stroke="#111" stroke-width="1.3" fill="none"/><rect x="512.90" y="385.00" width="7.40" height="6.30" rx="0" stroke="#111" stroke-width="1.3" fill="none"/><path d="M497.70000000000005 395.8L522.5 395.8" stroke="#222" stroke-width="1.725" fill="none"/><path d="M531.1 372.6 Q531.1 364.6 539.1 364.6 H565.3000000000001 Q573.3000000000001 364.6 573.3000000000001 372.6 V387.4 C573.3000000000001 403.4 564.2 409.4 552.2 409.4 C540.2 409.4 531.1 403.4 531.1 387.4 Z" stroke="#000" stroke-width="1.725" fill="none" /><path d="M534.2 373.8 Q534.2 367.8 540.2 367.8 H564.2 Q570.2 367.8 570.2 373.8 V387.2 C570.2 401.2 562.2 406.2 552.2 406.2 C542.2 406.2 534.2 401.2 534.2 387.2 Z" stroke="#000" stroke-width="1.17" fill="none" /><path d="M538.8000000000001 372.6 V392.4 Q538.8000000000001 396.4 543.2 398.4 L552.2 401.4 L561.2 398.4 Q565.6 396.4 565.6 392.4 V372.6" stroke="#000" stroke-width="2.2" fill="none" /><path d="M537.8000000000001 373L566.6 373" stroke="#000" stroke-width="1.265" fill="none"/><path d="M540.6 374.5 H563.8000000000001 V391.9 Q563.6 394.9 560.2 396.79999999999995 L552.2 399.59999999999997 L544.2 396.79999999999995 Q540.8000000000001 394.9 540.6 391.9 Z" stroke="#000" stroke-width="0.91" fill="none" /><path d="M538.8000000000001 373L535.7 369.3" stroke="#000" stroke-width="1.17" fill="none"/><path d="M565.6 373L568.7 369.3" stroke="#000" stroke-width="1.17" fill="none"/><path d="M538.8000000000001 393.4L534.7 395.4" stroke="#000" stroke-width="1.17" fill="none"/><path d="M565.6 393.4L569.7 395.4" stroke="#000" stroke-width="1.17" fill="none"/><path d="M540.8000000000001 376.5 L549.2 381.3 H555.2 L563.6 376.5" stroke="#000" stroke-width="1.17" fill="none" /><path d="M540.8000000000001 380 L549.2 385.2 H555.2 L563.6 380" stroke="#000" stroke-width="1.17" fill="none" /><rect x="549.60" y="377.50" width="5.20" height="3.50" rx="0.5" stroke="#000" stroke-width="1.04" fill="none"/><path d="M540.8000000000001 375L563.6 375" stroke="#000" stroke-width="1.04" fill="none"/><rect x="542.00" y="385.00" width="7.40" height="6.30" rx="0" stroke="#111" stroke-width="1.3" fill="none"/><rect x="555.00" y="385.00" width="7.40" height="6.30" rx="0" stroke="#111" stroke-width="1.3" fill="none"/><path d="M539.8000000000001 395.8L564.6 395.8" stroke="#222" stroke-width="1.725" fill="none"/>
<rect x="377.70" y="317.10" width="17.50" height="75.10" rx="1.5" stroke="#333" stroke-width="1.9" fill="none"/>
<rect x="377.70" y="317.10" width="17.50" height="75.10" rx="1.5" stroke="#aaa" stroke-width="0.65" fill="none"/>
<ellipse cx="598.3" cy="324.4" rx="13.1" ry="8.4" fill="none" stroke="#111" stroke-width="0.9"/>
<ellipse cx="598.3" cy="360.8" rx="13.1" ry="8.4" fill="none" stroke="#111" stroke-width="0.9"/>
<path d="M636.9 318.7 L640.0 325.0 H637.6999999999999 V334.4 H636.1 V325.0 H633.8 Z" stroke="#111" stroke-width="1.17" fill="#aaa" />
<path d="M379.8 506.5 L382.90000000000003 512.8 H380.6 V522 H379.0 V512.8 H376.7 Z" stroke="#111" stroke-width="1.17" fill="#aaa" />
<circle cx="481.70" cy="631.90" r="5.5" fill="none" stroke="#111" stroke-width="1.1"/><circle cx="485.86" cy="639.10" r="5.5" fill="none" stroke="#111" stroke-width="1.1"/><circle cx="477.54" cy="639.10" r="5.5" fill="none" stroke="#111" stroke-width="1.1"/>
<g transform="translate(476.3,547.6) rotate(-90)"><circle cx="0.00" cy="-5.00" r="5.2" fill="none" stroke="#111" stroke-width="1.1"/><circle cx="4.33" cy="2.50" r="5.2" fill="none" stroke="#111" stroke-width="1.1"/><circle cx="-4.33" cy="2.50" r="5.2" fill="none" stroke="#111" stroke-width="1.1"/></g>
<path d="M412.3 460.6L432 479.2" stroke="#000" stroke-width="1.495" fill="none"/><path d="M432 460.6L412.3 479.2" stroke="#000" stroke-width="1.495" fill="none"/><path d="M417.8 465 H426.8 L425.8 477.3 H418.8 Z" stroke="#000" stroke-width="1.495" fill="none" /><path d="M417 464.3 Q422.2 459.3 427.5 464.3" stroke="#000" stroke-width="2.2" fill="none" /><path d="M418 466.6L426.6 466.6" stroke="#000" stroke-width="1.3" fill="none"/><circle cx="425.2" cy="477.3" r="1.5" fill="#000"/><rect x="414.10" y="483.40" width="16.70" height="4.50" rx="0.3" stroke="#000" stroke-width="1.17" fill="none"/>
<path d="M382.6 538.6 H405.5 L413 548 H424.5 L429.3 557.5 H418 L410 566.5 H382.6 Z" stroke="#111" stroke-width="1.17" fill="none" />
<rect x="617.60" y="514.20" width="8.80" height="49.60" rx="0" stroke="#222" stroke-width="1.38" fill="none"/>
<path d="M618.2 514.2L618.2 563.8" stroke="#111" stroke-width="2.0" fill="none"/>
<path d="M617.6 561.2L626.4 561.2" stroke="#555" stroke-width="1.3" fill="none"/>
<path d="M618 563.8 L617 571 H620 L621 568 L626 572 L626.4 563.8" stroke="#111" stroke-width="1.265" fill="none" />
<path d="M608 509.5 L611 500.5 L613.5 503.8 L616 500.3 L618.5 504.2 L623.5 506.5 L621.5 511.3 L617.5 508.3 L615.5 511.5 L612 508.5 Z" stroke="#000" stroke-width="1.725" fill="#999" />
<path d="M607.2 514.7L615.4 514.7" stroke="#111" stroke-width="1.495" fill="none"/>
<path d="M607.2 565.3L615.4 565.3" stroke="#111" stroke-width="1.495" fill="none"/>
<path d="M611.3 515.8 L614.8 520 H612.5 V524.6 H610.1 V520 H607.8 Z" stroke="#111" stroke-width="1.04" fill="#fff" />
<path d="M611.3 564.2 L614.8 560 H612.5 V555.4 H610.1 V560 H607.8 Z" stroke="#111" stroke-width="1.04" fill="#fff" />
<path d="M419.1 379.2 H432.6 Q434 379.3 434 381 Q434 382.7 432.6 382.7 H428.6 L428.2 387 Q427.5 390.5 424.5 392 Q421.5 393.2 418.5 391.8 Q415.2 389.8 415 385.6 Q415 383.6 415.8 382.3 L420.6 385.3 L418.8 388 Q420.6 390 423 388.4 L425.8 386.4 L419 381.2 Z" stroke="#111" stroke-width="1.3" fill="#fff" />
<path d="M417.9 367.4 Q415.8 365.8 417 363.2 L418.8 358.6 Q419 358.2 420 358.2 H424.5 Q428.5 358.6 430.6 361.8 Q432.4 364.6 431 366.6 Q430.4 367.6 429.4 367.8" stroke="#111" stroke-width="1.3" fill="none" />
<path d="M415.2 368.5 L424.3 375.3 L424.7 372 L433.6 372.5 L421.5 363 L421 367.8 Z" stroke="#111" stroke-width="1.3" fill="#fff" />
<text transform="translate(159.02,143.22)" font-size="29.46" textLength="163.06" lengthAdjust="spacingAndGlyphs" font-weight="bold" font-style="italic" fill="#000" stroke="#000" stroke-width="0.6">Dimensions</text>
<text transform="translate(750.00,141.00) skewX(-8)" font-size="26.00" textLength="124.00" lengthAdjust="spacingAndGlyphs" font-weight="bold" fill="#000" stroke="#000" stroke-width="0.4" class="ar">الأبـــعــاد</text>
<text transform="translate(470.98,183.68)" font-size="26.07" textLength="78.17" lengthAdjust="spacingAndGlyphs" fill="#2b2b2b">60mm</text>
<text transform="translate(469.60,703.68)" font-size="25.71" textLength="77.42" lengthAdjust="spacingAndGlyphs" fill="#2b2b2b">70mm</text>
<text transform="translate(474.75,755.95)" font-size="25.21" textLength="75.56" lengthAdjust="spacingAndGlyphs" fill="#2b2b2b">82mm</text>
<text transform="translate(233.07,495.20) rotate(-90)" font-size="25.45" textLength="74.50" lengthAdjust="spacingAndGlyphs" fill="#2b2b2b">82mm</text>
<text transform="translate(759.75,485.48) rotate(-90)" font-size="25.84" textLength="77.14" lengthAdjust="spacingAndGlyphs" fill="#2b2b2b">70mm</text>
<text transform="translate(325.38,807.55)" font-size="22.53" textLength="371.81" lengthAdjust="spacingAndGlyphs" font-style="italic" fill="#222">The shape of the plate from the back</text>
<text transform="translate(389.77,832.15) skewX(-10)" font-size="19.75" textLength="243.78" lengthAdjust="spacingAndGlyphs" fill="#111" stroke="#111" stroke-width="0.3" class="ar">شـــكــل الــلــوحة مـن الــخــلــف</text>
<text transform="translate(391.38,390.00) rotate(-90)" font-size="14.75" textLength="70.16" lengthAdjust="spacingAndGlyphs" font-weight="bold" fill="#444" stroke="#000" stroke-width="0.7" paint-order="stroke">16A 250V~</text>
<text transform="translate(408.60,380.88) rotate(-90)" font-size="12.64" textLength="51.88" lengthAdjust="spacingAndGlyphs" font-weight="bold" fill="#444" stroke="#000" stroke-width="0.7" paint-order="stroke">50/60Hz</text>
<text transform="translate(423.20,349.60) rotate(-90)" font-size="12.21" textLength="21.63" lengthAdjust="spacingAndGlyphs" font-weight="bold" fill="#888" stroke="#000" stroke-width="1.0" paint-order="stroke">BEST</text>
<text transform="translate(434.75,352.53) rotate(-90)" font-size="14.64" textLength="31.86" lengthAdjust="spacingAndGlyphs" font-weight="bold" fill="#111">CHOICE</text>
<text transform="translate(458.77,355.20)" font-size="16.32" textLength="18.10" lengthAdjust="spacingAndGlyphs" fill="#666" stroke="#111" stroke-width="1.1" paint-order="stroke">L1<tspan font-size="70%">1</tspan></text>
<text transform="translate(495.02,355.33)" font-size="16.31" textLength="27.78" lengthAdjust="spacingAndGlyphs" fill="#666" stroke="#111" stroke-width="1.1" paint-order="stroke">L1-2</text>
<text transform="translate(539.62,355.33)" font-size="16.31" textLength="23.49" lengthAdjust="spacingAndGlyphs" fill="#666" stroke="#111" stroke-width="1.1" paint-order="stroke">L2<tspan font-size="70%">1</tspan></text>
<text transform="translate(589.90,328.32)" font-size="11.54" textLength="19.16" lengthAdjust="spacingAndGlyphs" font-weight="bold" fill="#aaa" stroke="#000" stroke-width="1.0" paint-order="stroke" letter-spacing="0.6">IEC</text>
<text transform="translate(589.90,364.68)" font-size="11.96" textLength="17.83" lengthAdjust="spacingAndGlyphs" font-weight="bold" fill="#aaa" stroke="#000" stroke-width="1.0" paint-order="stroke" letter-spacing="0.6">EN</text>
<text transform="translate(586.80,343.23)" font-size="11.68" textLength="46.36" lengthAdjust="spacingAndGlyphs" font-weight="bold" fill="#333" stroke="#000" stroke-width="0.5" paint-order="stroke">60669-1</text>
<text transform="translate(586.80,379.77)" font-size="11.68" textLength="46.36" lengthAdjust="spacingAndGlyphs" font-weight="bold" fill="#333" stroke="#000" stroke-width="0.5" paint-order="stroke">60669-1</text>
<text transform="translate(521.27,563.52) rotate(-90)" font-size="11.64" textLength="79.58" lengthAdjust="spacingAndGlyphs" font-weight="bold" fill="#111" stroke="#111" stroke-width="0.35">MADE IN CHINA</text>
<text transform="translate(484.95,536.98) rotate(-90)" font-size="24.85" textLength="54.82" lengthAdjust="spacingAndGlyphs" fill="#333" stroke="#333" stroke-width="0.25">ra<tspan font-size="80%">f</tspan>ee<tspan font-size="80%">d</tspan></text>
<text transform="translate(492.25,644.40)" font-size="23.97" textLength="55.66" lengthAdjust="spacingAndGlyphs" fill="#333" stroke="#333" stroke-width="0.25">ra<tspan font-size="80%">f</tspan>ee<tspan font-size="80%">d</tspan></text>
<text transform="translate(383.30,547.52)" font-size="10.73" textLength="19.27" lengthAdjust="spacingAndGlyphs" font-weight="bold" fill="#111">USE</text>
<text transform="translate(384.00,556.38)" font-size="9.42" textLength="38.03" lengthAdjust="spacingAndGlyphs" font-weight="bold" fill="#aaa" stroke="#000" stroke-width="1.1" paint-order="stroke">COPPER</text>
<text transform="translate(384.52,565.48)" font-size="9.75" textLength="24.77" lengthAdjust="spacingAndGlyphs" font-weight="bold" fill="#aaa" stroke="#000" stroke-width="1.1" paint-order="stroke">WIRE</text>
<text transform="translate(615.02,554.40) rotate(-90)" font-size="10.45" textLength="29.00" lengthAdjust="spacingAndGlyphs" font-weight="bold" fill="#888" stroke="#111" stroke-width="0.9" paint-order="stroke">12MM</text>
</g>
</svg>
</body></html>
